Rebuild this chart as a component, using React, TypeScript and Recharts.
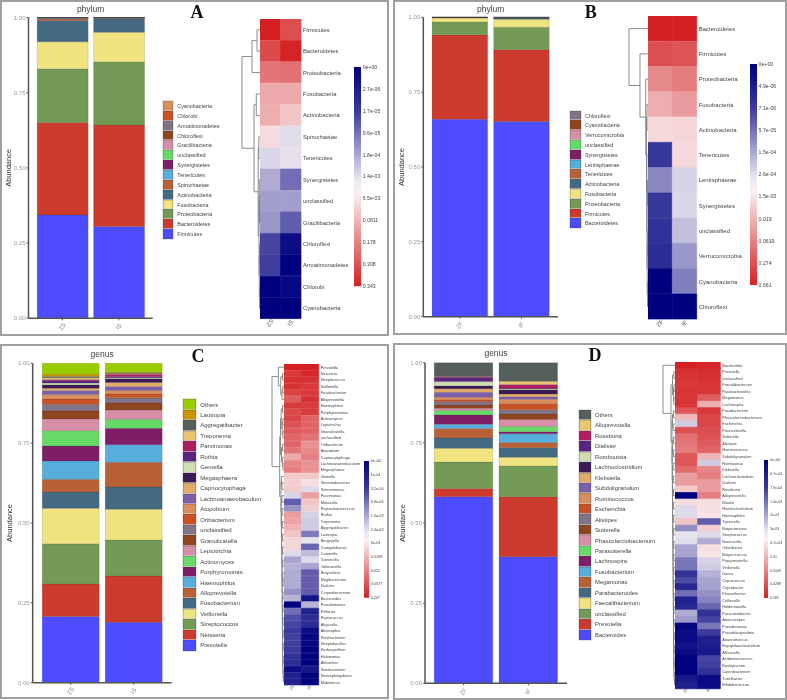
import React from 'react';
import { BarChart, Bar, XAxis, YAxis, Cell, Legend, ScatterChart, Scatter } from 'recharts';

const palette = ['#4D4DFF','#CC3B2E','#739B55','#F0E480','#446983','#B86137','#57AEDC','#7D1E66','#66D966','#D68FA6','#8F4520','#807487','#C85126','#D98F5C','#7B5FA8','#E2AC68','#3A1A55','#CFDDB0','#5A2480','#AE1E60','#E8C770','#56605A','#C99500','#9ACD00'];

// Panel A
const phylumA = ['Firmicutes','Bacteroidetes','Proteobacteria','Fusobacteria','Actinobacteria','Spirochaetae','Tenericutes','Synergistetes','unclassified','Gracilibacteria','Chloroflexi','Armatimonadetes','Chlorobi','Cyanobacteria'];
const phylumAZS = [.343,.308,.178,.090,.071,.006,.002,.0006,.0005,.0004,.0001,.0001,.00001,.00001];
const phylumAIS = [.305,.338,.210,.098,.0445,.0025,.001,.0004,.0005,.0002,.00002,.00001,.00001,.00001];
const heatAZS = [1,.8,.6,.36,.33,.12,-.12,-.3,-.35,-.38,-.72,-.75,-1,-1];
const heatAIS = [.78,.98,.62,.36,.22,-.1,-.08,-.55,-.35,-.62,-.95,-1,-.97,-1];
const barTicksA = ['0e+00','2.7e-06','1.7e-05','9.6e-05','1.8e-04','1.4e-03','6.5e-03','0.0811','0.178','0.308','0.343'];

// Panel B
const phylumB = ['Bacteroidetes','Firmicutes','Proteobacteria','Fusobacteria','Actinobacteria','Tenericutes','Lentisphaerae','Synergistetes','unclassified','Verrucomicrobia','Cyanobacteria','Chloroflexi'];
const phylumBZF = [.659,.282,.043,.0127,.002,.0002,.00005,.0002,.0002,.00003,.00001,.00001];
const phylumBIF = [.6526,.2404,.075,.0264,.0042,.0015,.0003,.0003,.0002,.0001,.00005,.00001];
const heatBZF = [1,.78,.5,.33,.13,-.78,-.45,-.78,-.8,-.82,-1,-1];
const heatBIF = [1,.75,.57,.42,.14,.13,-.14,-.12,-.22,-.38,-.48,-1];
const barTicksB = ['0e+00','4.9e-06','7.1e-06','5.7e-05','1.5e-04','2.6e-04','1.5e-03','0.019','0.0619','0.274','0.661'];

// Panel C
const genusCStack = ['Prevotella','Neisseria','Streptococcus','Veillonella','Fusobacterium','Alloprevotella','Haemophilus','Porphyromonas','Actinomyces','Leptotrichia','Granulicatella','unclassified','Oribacterium','Atopobium','Lachnoanaerobaculum','Capnocytophaga','Megasphaera','Gemella','Rothia','Parvimonas','Treponema','Aggregatibacter','Lautropia','Others'];
const genusCZS = [.207,.102,.126,.111,.051,.040,.057,.047,.048,.037,.025,.020,.017,.014,.013,.007,.011,.005,.008,.003,.006,.004,.007,.034];
const genusCIS = [.189,.145,.113,.096,.070,.077,.055,.052,.028,.029,.022,.016,.012,.011,.012,.013,.012,.003,.003,.008,.002,.002,.002,.028];
const genusCHeat = ['Prevotella','Neisseria','Streptococcus','Veillonella','Fusobacterium','Alloprevotella','Haemophilus','Porphyromonas','Actinomyces','Leptotrichia','Granulicatella','unclassified','Oribacterium','Atopobium','Capnocytophaga','Lachnoanaerobaculum','Megasphaera','Gemella','Stomatobaculum','Selenomonas','Parvimonas','Moraxella','Peptostreptococcus','Rothia','Treponema','Aggregatibacter','Lautropia','Bergeyella','Campylobacter','Catonella','Tannerella','Johnsonella','Butyrivibrio','Mogibacterium','Dialister','Corynebacterium','Bacteroides','Pseudomonas','Filifactor','Peptococcus','Abyssella','Abiotrophia','Fretibacterium','Streptobacillus','Herbaspirillum','Halomonas','Alihoefiea','Solobacterium','Novosphingobium','Mobiluncus'];
const heatCZS = [1,.88,.92,.92,.84,.72,.87,.8,.82,.76,.72,.68,.68,.6,.35,.52,.55,.2,.18,.2,-.14,-.62,-.4,.4,.38,.3,.22,.14,.14,-.11,-.33,-.27,-.3,-.3,-.3,-.4,-.27,-1,-.55,-.68,-.72,-.76,-.74,-.74,-.76,-.8,-.82,-.95,-.87,-.87];
const heatCIS = [1,.96,.92,.88,.88,.92,.87,.87,.68,.68,.68,.62,.46,.5,.55,.46,.46,.2,.1,-.11,.4,.22,.18,-.14,-.17,-.17,-.5,-.07,-.58,-.24,-.11,-.33,-.62,-.62,-.62,-.62,-.92,-.27,-.87,-.82,-.82,-.95,-.97,-.97,-1,-1,-1,-.9,-1,-.99];
const barTicksC = ['0e+00','1e-04','3.2e-04','6.9e-04','1.3e-03','2.4e-03','5e-03','0.0108','0.022','0.0577','0.207'];

// Panel D
const genusDStack = ['Bacteroides','Prevotella','unclassified','Faecalibacterium','Parabacteroides','Megamonas','Fusobacterium','Lachnospira','Parasutterella','Phascolarctobacterium','Sutterella','Alistipes','Escherichia','Ruminococcus','Subdoligranulum','Klebsiella','Lachnoclostridium','Romboutsia','Dialister','Roseburia','Alloprevotella','Others'];
const genusDZF = [.582,.026,.082,.043,.032,.030,.013,.029,.014,.007,.010,.010,.006,.008,.016,.011,.009,.013,.013,.002,.001,.043];
const genusDIF = [.395,.187,.096,.027,.030,.016,.027,.007,.016,.022,.017,.013,.020,.013,.008,.008,.013,.003,.002,.012,.010,.058];
const genusDHeat = ['Bacteroides','Prevotella','unclassified','Faecalibacterium','Parabacteroides','Megamonas','Lachnospira','Fusobacterium','Phascolarctobacterium','Escherichia','Parasutterella','Sutterella','Alistipes','Ruminococcus','Subdoligranulum','Romboutsia','Klebsiella','Lachnoclostridium','Dialister','Roseburia','Alloprevotella','Blautia','Ruminiclostridium','Haemophilus','Tyzzerella','Butyricimonas','Streptococcus','Barnesiella','Odoribacter','Butyricicoccus','Paraprevotella','Veillonella','Dorea','Coprococcus','Coprobacter','Flavonifractor','Collinsella','Holdemanella','Fusicatenibacter','Anaerostipes','Pseudomonas','Pseudobutyrivibrio','Anaerotruncus','Erysipelatoclostridium','Allisonella','Acidaminococcus','Epulopiscium','Catenibacterium','Turicibacter','Bifidobacterium'];
const heatDZF = [1,.92,.9,.88,.9,.9,.9,.74,.28,-.17,.77,.62,.6,.57,.74,.74,.64,.42,.42,.2,-1,.11,-.11,-.11,.22,-.42,-.07,-.1,-.33,-.33,-.52,-.52,-.8,-.7,-.84,-.55,-.87,-.84,-.3,-.36,-.98,-.95,-.96,-.92,-.96,-1,-1,-1,-.9,-.87];
const heatDIF = [.96,.94,.92,.9,.9,.72,.33,.88,.82,.82,.79,.76,.72,.68,.3,-.17,.52,.55,.42,.42,.55,.11,.1,.07,-.62,.17,-.11,-.3,.1,.07,-.14,-.17,-.27,-.33,-.34,-.4,-.46,-.58,-.8,-.72,-.52,-.76,-.87,-.88,-.9,-.72,-.74,-.8,-.96,-.96];
const barTicksD = ['0e+00','4.7e-04','7.9e-04','1.4e-03','2e-03','3e-03','4.7e-03','0.01','0.0149','0.0288','0.582'];

// Dendrograms: [merge height, child, child]; a bare number is a heatmap row
type Tree = number | [number, Tree, Tree];
const cat = (groups: Tree[], heights: number[]): Tree => {
  let acc = groups[groups.length - 1];
  for (let i = groups.length - 2; i >= 0; i--) acc = [heights[i], groups[i], acc];
  return acc;
};
const treeA: Tree = [18,[8,[3,0,1],2],[6,[3.7,3,4],[1.8,[1.2,5,6],[1,[.7,7,[.5,8,9]],[.7,[.5,10,11],[.4,12,13]]]]]];
const treeB: Tree = [19,0,[8,1,[2.3,2,[1.5,[1,3,4],[1.2,5,[1,[.5,6,7],[.8,[.5,8,9],[.5,10,11]]]]]]]];
const cTop: Tree = [5.7,0,[3.3,[1.5,1,2],[2,[1.2,3,4],5]]];
const cMid: Tree = [3.5,[2.8,[1.5,6,7],[1.8,[1.2,8,9],[1,10,11]]],[2.5,[1.5,12,13],[1.6,14,[1,15,16]]]];
const cRest = cat([[2.6,17,[2,18,19]],[2,20,21],[1.8,22,23],[1.6,24,25],[1.4,26,27],[1.3,28,29],[1.2,30,31],[1.2,32,[1,33,34]],[1.1,35,36],[1,37,38],[1,39,40],[.9,41,42],[.9,43,44],[.8,45,46],[.8,47,[.6,48,49]]],[3,2.8,2.6,2.4,2.2,2,1.9,1.8,1.7,1.6,1.5,1.4,1.3,1.2]);
const treeC: Tree = [12,cTop,[4.3,cMid,cRest]];
const dRest = cat([[2.4,[1.4,11,12],[1.6,13,14]],[1.9,15,16],[1.6,17,18],[1.5,19,20],[1.4,21,22],[1.3,23,24],[1.3,25,26],[1.2,27,28],[1.2,29,30],[1.1,31,32],[1.1,33,34],[1,35,36],[1,37,38],[.9,39,40],[.9,41,42],[.8,43,44],[.8,45,46],[.7,47,[.5,48,49]]],[2.8,2.6,2.5,2.4,2.3,2.2,2.1,2,1.9,1.8,1.7,1.6,1.5,1.4,1.3,1.2,1.1]);
const treeD: Tree = [12,0,[4,[2.5,[1.2,1,2],[1.4,[1,3,4],[1.2,5,6]]],[3,[2.5,[1.5,7,8],[1.8,9,10]],dRest]]];

const FONT = '"Liberation Sans", Arial, sans-serif';
const heatColor = (s: number) => {
  const base = [250, 244, 246];
  const end = s >= 0 ? [212, 32, 34] : [0, 0, 127];
  const t = Math.abs(s);
  const c = base.map((b, i) => Math.round(b + (end[i] - b) * t));
  return `rgb(${c[0]},${c[1]},${c[2]})`;
};

function walk(t: Tree, out: { x: number; y: number }[][]): { h: number; p: number } {
  if (typeof t === 'number') return { h: 0, p: t + 0.5 };
  const a = walk(t[1], out);
  const b = walk(t[2], out);
  out.push([{ x: a.h, y: a.p }, { x: t[0], y: a.p }, { x: t[0], y: b.p }, { x: b.h, y: b.p }]);
  return { h: t[0], p: (a.p + b.p) / 2 };
}

function StackPanel(p: any) {
  const { left, top, h, yw, plotEnd, plotTop, plotBottom, pad, barSize, names, samples, valuesA, valuesB, title, legend } = p;
  const W = 285;
  const data = samples.map((s: string, k: number) => {
    const row: any = { sample: s };
    names.forEach((n: string, i: number) => { row[n] = (k === 0 ? valuesA : valuesB)[i]; });
    return row;
  });
  const LegendBox = (lp: any) => {
    const items = [...names].reverse().map((n: string) => (lp.payload || []).find((e: any) => e.value === n)).filter(Boolean);
    return (
      <div style={{ fontFamily: FONT }}>
        {items.map((e: any) => (
          <div key={e.value} style={{ display: 'flex', alignItems: 'center', height: legend.row }}>
            <div style={{ width: legend.sw, height: legend.row, background: e.color, boxShadow: 'inset 0 0 0 0.6px rgba(60,60,60,0.35), 0 0 0 0.6px #d4d4dc' }} />
            <span style={{ marginLeft: legend.gap, fontSize: legend.font, color: '#444', whiteSpace: 'nowrap' }}>{e.value}</span>
          </div>
        ))}
      </div>
    );
  };
  return (
    <div style={{ position: 'absolute', left, top, width: W, height: h }}>
      <div style={{ position: 'absolute', left: yw, width: plotEnd - yw, top: p.titleY - 6, height: 12, lineHeight: '12px', textAlign: 'center', fontFamily: FONT, fontSize: 8.5, color: '#444' }}>{title}</div>
      <BarChart width={W} height={h} data={data} stackOffset="expand" margin={{ top: plotTop, right: W - plotEnd, bottom: 0, left: 0 }} barSize={barSize}>
        <XAxis dataKey="sample" height={h - plotBottom} padding={{ left: pad, right: pad }} axisLine={{ stroke: '#555', strokeWidth: 1.5 }} tickLine={{ stroke: '#555' }} tickSize={2} angle={-55} tick={{ fontSize: 6, fill: '#888', dy: 3, dx: -2 }} interval={0} />
        <YAxis width={yw} domain={[0, 1]} ticks={[0, .25, .5, .75, 1]} tickFormatter={(v: number) => v.toFixed(2)} axisLine={{ stroke: '#555', strokeWidth: 1.5 }} tickLine={{ stroke: '#555' }} tickSize={2} tickMargin={1} tick={{ fontSize: 6, fill: '#999' }}
          label={{ content: (lp: any) => {
            const cy = lp.viewBox.y + lp.viewBox.height / 2;
            return <text transform={`translate(${p.labelX},${cy}) rotate(-90)`} textAnchor="middle" fontSize={7.5} fill="#333" fontFamily={FONT}>Abundance</text>;
          } }} />
        <Legend layout="vertical" align="center" verticalAlign="middle" content={LegendBox} wrapperStyle={{ left: legend.x, top: legend.y, width: 110, margin: 0 }} />
        {names.map((n: string, i: number) => (
          <Bar key={n} dataKey={n} stackId="s" fill={palette[i]} stroke="rgba(50,50,50,0.28)" strokeWidth={0.5} isAnimationActive={false} />
        ))}
      </BarChart>
    </div>
  );
}

function HeatPanel(p: any) {
  const { left, top, w, h, labelW, xh, names, cols, a, b, font, colFont, tickDy } = p;
  const data = names.map((n: string) => ({ name: n, a: 1, b: 1 }));
  return (
    <div style={{ position: 'absolute', left, top, width: w + labelW, height: h + xh }}>
      <BarChart layout="vertical" width={w + labelW} height={h + xh} data={data} barCategoryGap={0} margin={{ top: 0, right: 0, bottom: 0, left: 0 }}>
        <XAxis type="number" domain={[0, 2]} ticks={[.5, 1.5]} height={xh} tickFormatter={(v: number) => cols[Math.floor(v)]} axisLine={false} tickLine={false} tickSize={0} tickMargin={0} angle={-50} tick={{ fontSize: colFont, fill: '#555', dy: tickDy, dx: -2 }} interval={0} />
        <YAxis type="category" dataKey="name" orientation="right" width={labelW} axisLine={false} tickLine={false} tickMargin={2} tickSize={0} interval={0} tick={{ fontSize: font, fill: '#444' }} />
        <Bar dataKey="a" stackId="h" isAnimationActive={false}>
          {a.map((s: number, i: number) => <Cell key={i} fill={heatColor(s)} stroke={heatColor(s)} strokeWidth={0.7} />)}
        </Bar>
        <Bar dataKey="b" stackId="h" isAnimationActive={false}>
          {b.map((s: number, i: number) => <Cell key={i} fill={heatColor(s)} stroke={heatColor(s)} strokeWidth={0.7} />)}
        </Bar>
      </BarChart>
    </div>
  );
}

function Dendro({ tree, n, heatLeft, top, h, H }: any) {
  const links: { x: number; y: number }[][] = [];
  walk(tree, links);
  return (
    <div style={{ position: 'absolute', left: heatLeft - H - 2, top, width: H + 2, height: h }}>
      <ScatterChart width={H + 2} height={h} margin={{ top: 0, right: 0, bottom: 0, left: 2 }}>
        <XAxis type="number" dataKey="x" domain={[0, H]} reversed hide />
        <YAxis type="number" dataKey="y" domain={[0, n]} reversed hide />
        {links.map((l, i) => (
          <Scatter key={i} data={l} line={{ stroke: '#808080', strokeWidth: 0.9 }} lineType="joint" shape={() => <g />} isAnimationActive={false} />
        ))}
      </ScatterChart>
    </div>
  );
}

function ColorBar({ id, left, top, h, w, labels, font }: any) {
  const labelW = 36;
  const m = 5;
  return (
    <div style={{ position: 'absolute', left, top: top - m, width: w + labelW, height: h + 2 * m }}>
      <BarChart width={w + labelW} height={h + 2 * m} data={[{ k: 'scale', v: 10 }]} barCategoryGap={0} margin={{ top: m, right: 0, bottom: m, left: 0 }}>
        <defs>
          <linearGradient id={id} x1="0" y1="0" x2="0" y2="1">
            <stop offset="0" stopColor="#00007F" />
            <stop offset="0.2" stopColor="#3A3A9E" />
            <stop offset="0.42" stopColor="#B4B4DA" />
            <stop offset="0.52" stopColor="#ECE9F2" />
            <stop offset="0.58" stopColor="#FAF0F1" />
            <stop offset="0.78" stopColor="#E98C8D" />
            <stop offset="1" stopColor="#D42022" />
          </linearGradient>
        </defs>
        <XAxis dataKey="k" hide />
        <YAxis type="number" domain={[0, 10]} ticks={[0,1,2,3,4,5,6,7,8,9,10]} reversed orientation="right" width={labelW} interval={0} axisLine={false} tickLine={false} tickSize={0} tickMargin={2} tickFormatter={(v: number) => labels[v]} tick={{ fontSize: font, fill: '#444' }} />
        <Bar dataKey="v" fill={`url(#${id})`} isAnimationActive={false} />
      </BarChart>
    </div>
  );
}

const Frame = ({ l, t, r, b }: any) => (
  <div style={{ position: 'absolute', left: l, top: t, width: r - l, height: b - t, boxSizing: 'border-box', border: '2px solid #a0a0a0' }} />
);
const Letter = ({ c, x, y }: any) => (
  <div style={{ position: 'absolute', left: x - 15, top: y - 11, width: 30, height: 22, lineHeight: '22px', textAlign: 'center', fontFamily: '"Liberation Serif", serif', fontWeight: 700, fontSize: 18, color: '#111' }}>{c}</div>
);

export default function App() {
  return (
    <div style={{ position: 'absolute', left: 0, top: 0, width: 787, height: 700, overflow: 'hidden', background: '#fff', fontFamily: FONT, filter: 'blur(0.45px)' }}>
      <Frame l={0} t={0} r={388.5} b={336} />
      <Frame l={393} t={0} r={787} b={335} />
      <Frame l={0} t={344} r={388.5} b={699} />
      <Frame l={393} t={343} r={787} b={700} />

      <StackPanel left={0} top={0} h={335} yw={28.5} plotEnd={152.7} plotTop={17.5} plotBottom={318.3} pad={5.65} barSize={51} names={phylumA} samples={['ZS','IS']} valuesA={phylumAZS} valuesB={phylumAIS} title="phylum" titleY={8.7} labelX={10.5}
        legend={{ x: 162.7, y: 101, row: 9.87, sw: 10.6, gap: 4, font: 5.4 }} />
      <Letter c="A" x={197} y={12} />
      <HeatPanel left={260.3} top={19.3} w={41} h={300} labelW={60} xh={15.5} tickDy={2.5} names={phylumA} cols={['ZS','IS']} a={heatAZS} b={heatAIS} font={5.8} colFont={6} />
      <Dendro tree={treeA} n={14} heatLeft={260.3} top={19.3} h={300} H={18} />
      <ColorBar id="gA" left={354} top={66.7} h={219.3} w={6.7} labels={barTicksA} font={5.2} />

      <StackPanel left={395} top={0} h={335} yw={28.3} plotEnd={163} plotTop={17.3} plotBottom={316.7} pad={5.75} barSize={55.6} names={phylumB} samples={['ZF','IF']} valuesA={phylumBZF} valuesB={phylumBIF} title="phylum" titleY={8.7} labelX={9}
        legend={{ x: 174.7, y: 110.7, row: 9.8, sw: 11.3, gap: 4, font: 5.4 }} />
      <Letter c="B" x={590.7} y={12} />
      <HeatPanel left={648.3} top={16} w={48.7} h={303.3} labelW={60} xh={15} tickDy={2.5} names={phylumB} cols={['ZF','IF']} a={heatBZF} b={heatBIF} font={6} colFont={6} />
      <Dendro tree={treeB} n={12} heatLeft={648.3} top={16} h={303.3} H={19} />
      <ColorBar id="gB" left={749.7} top={64.3} h={221} w={6.6} labels={barTicksB} font={5.2} />

      <StackPanel left={0} top={345} h={354} yw={32.7} plotEnd={171.7} plotTop={18.3} plotBottom={337.7} pad={6.5} barSize={57} names={genusCStack} samples={['ZS','IS']} valuesA={genusCZS} valuesB={genusCIS} title="genus" titleY={9} labelX={11.5}
        legend={{ x: 183.3, y: 54.3, row: 10.47, sw: 12.7, gap: 4.3, font: 6 }} />
      <Letter c="C" x={198} y={355.7} />
      <HeatPanel left={284.3} top={364.3} w={34.7} h={321.4} labelW={60} xh={11} tickDy={1} names={genusCHeat} cols={['ZS','IS']} a={heatCZS} b={heatCIS} font={3.9} colFont={4} />
      <Dendro tree={treeC} n={50} heatLeft={284.3} top={364.3} h={321.4} H={12} />
      <ColorBar id="gC" left={364} top={461} h={136.7} w={4.7} labels={barTicksC} font={3.8} />

      <StackPanel left={395} top={345} h={354} yw={30} plotEnd={172} plotTop={17.7} plotBottom={338.3} pad={6.2} barSize={58.6} names={genusDStack} samples={['ZF','IF']} valuesA={genusDZF} valuesB={genusDIF} title="genus" titleY={8} labelX={9.5}
        legend={{ x: 184, y: 64.7, row: 10.48, sw: 12, gap: 4, font: 5.9 }} />
      <Letter c="D" x={595} y={355} />
      <HeatPanel left={674.7} top={362} w={45.3} h={326.3} labelW={50} xh={10} tickDy={1} names={genusDHeat} cols={['ZF','IF']} a={heatDZF} b={heatDIF} font={3.9} colFont={4} />
      <Dendro tree={treeD} n={50} heatLeft={674.7} top={362} h={326.3} H={12} />
      <ColorBar id="gD" left={764} top={460.3} h={138} w={4} labels={barTicksD} font={3.6} />
    </div>
  );
}
